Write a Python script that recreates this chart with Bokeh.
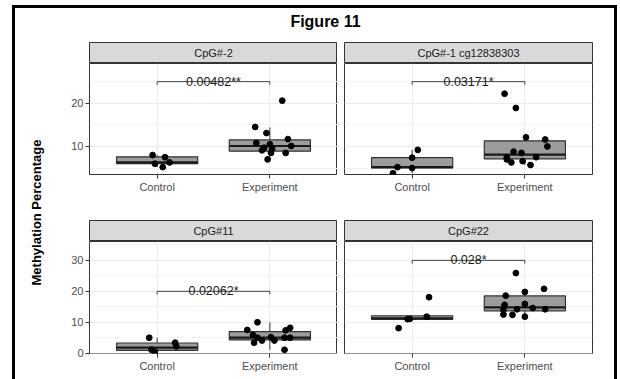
import math
from bokeh.plotting import figure
from bokeh.layouts import column, row
from bokeh.models import Range1d, FixedTicker, ColumnDataSource
from bokeh.core.properties import value
from bokeh.embed import file_html
from bokeh.resources import INLINE

FONT = "Liberation Sans"

# ---------------- data ----------------
title_text = "Figure 11"
y_title = "Methylation Percentage"
groups = ["Control", "Experiment"]
panels = ["CpG#-2", "CpG#-1 cg12838303", "CpG#11", "CpG#22"]
p_labels = ["0.00482**", "0.03171*", "0.02062*", "0.028*"]
bracket_y = [25, 25, 20, 30]

top_row_range = [3.5, 29.2]
bottom_row_range = [-0.1, 36.1]
top_row_ticks = [10, 20]
top_row_minor = [5, 15, 25]
bottom_row_ticks = [0, 10, 20, 30]
bottom_row_minor = [5, 15, 25, 35]

# points: values and horizontal jitter (in category units)
p1_control = [8.0, 7.5, 6.3, 6.0, 5.2]
p1_control_jit = [-0.04, 0.07, 0.11, -0.02, 0.05]
p1_experiment = [20.6, 14.5, 13.1, 11.7, 10.8, 10.5, 10.1, 9.7, 9.5, 9.1, 8.5, 8.5, 7.0]
p1_experiment_jit = [0.11, -0.13, -0.03, 0.16, -0.12, 0.0, 0.19, -0.05, 0.02, -0.07, 0.01, 0.14, -0.02]

p2_control = [9.2, 7.4, 5.2, 5.0, 3.8]
p2_control_jit = [0.05, 0.0, -0.13, 0.0, -0.17]
p2_experiment = [22.2, 18.9, 12.1, 11.6, 10.0, 8.8, 8.5, 7.5, 7.5, 7.0, 6.3, 6.6, 5.7]
p2_experiment_jit = [-0.18, -0.08, 0.01, 0.18, 0.2, -0.1, -0.03, 0.1, -0.16, -0.16, -0.12, -0.02, 0.05]

p3_control = [5.0, 3.4, 2.2, 1.1, 0.5]
p3_control_jit = [-0.07, 0.16, 0.17, -0.05, -0.02]
p3_experiment = [10.0, 7.5, 8.2, 7.4, 5.9, 5.2, 5.0, 4.1, 4.1, 5.0, 5.0, 3.4, 1.1]
p3_experiment_jit = [-0.11, -0.2, 0.18, 0.14, -0.15, 0.01, -0.11, -0.07, 0.04, 0.13, 0.18, -0.14, 0.13]

p4_control = [18.1, 11.8, 11.0, 11.1, 8.1]
p4_control_jit = [0.15, 0.13, -0.04, -0.02, -0.12]
p4_experiment = [25.9, 20.8, 19.8, 18.6, 15.6, 15.9, 14.6, 14.2, 14.2, 14.0, 12.5, 12.4, 11.8]
p4_experiment_jit = [-0.08, 0.17, 0.0, -0.17, -0.18, 0.0, 0.07, -0.07, 0.18, -0.19, -0.19, -0.11, 0.0]

# box statistics: [lower whisker, q1, median, q3, upper whisker]
p1_box_control = [5.2, 6.0, 6.3, 7.6, 8.0]
p1_box_experiment = [7.0, 8.9, 10.1, 11.5, 14.4]
p2_box_control = [3.8, 5.0, 5.2, 7.4, 9.2]
p2_box_experiment = [5.7, 7.1, 8.1, 11.3, 12.1]
p3_box_control = [0.5, 0.9, 1.8, 3.3, 5.0]
p3_box_experiment = [1.1, 4.3, 5.0, 7.0, 10.0]
p4_box_control = [10.9, 10.9, 11.3, 12.1, 12.1]
p4_box_experiment = [11.8, 13.7, 14.8, 18.5, 20.8]

panel_points = [
    [(p1_control, p1_control_jit), (p1_experiment, p1_experiment_jit)],
    [(p2_control, p2_control_jit), (p2_experiment, p2_experiment_jit)],
    [(p3_control, p3_control_jit), (p3_experiment, p3_experiment_jit)],
    [(p4_control, p4_control_jit), (p4_experiment, p4_experiment_jit)],
]
panel_boxes = [
    [p1_box_control, p1_box_experiment],
    [p2_box_control, p2_box_experiment],
    [p3_box_control, p3_box_experiment],
    [p4_box_control, p4_box_experiment],
]

# ---------------- styling / layout ----------------
FRAME_W = 248
BOX_HALF = 0.36
TIP_FRAC = 0.028
positions = [i + 1 for i in range(len(groups))]


def base_fig(**kw):
    f = figure(output_backend="svg", toolbar_location=None, **kw)
    f.border_fill_color = "white"
    return f


def make_strip(k, is_left):
    left = 39 if is_left else 7
    right = 0 if is_left else 22
    s = base_fig(width=left + FRAME_W + right, height=21,
                 x_range=Range1d(0, 1), y_range=Range1d(0, 1),
                 min_border_left=left, min_border_right=right,
                 min_border_top=0, min_border_bottom=0,
                 x_axis_location=None, y_axis_location=None)
    s.grid.grid_line_color = None
    s.background_fill_color = "#D9D9D9"
    s.outline_line_color = "#333333"
    s.outline_line_width = 1
    s.text(x=[0.5], y=[0.5], text=[panels[k]], text_align="center",
           text_baseline="middle", text_font=value(FONT),
           text_font_size="11px", text_color="#1A1A1A")
    return s


def make_panel(k, is_left, is_top):
    left = 39 if is_left else 7
    right = 0 if is_left else 22
    height = 157 if is_top else 138
    bottom = 46 if is_top else 26
    yr = top_row_range if is_top else bottom_row_range
    yt = top_row_ticks if is_top else bottom_row_ticks
    ym = top_row_minor if is_top else bottom_row_minor
    p = base_fig(width=left + FRAME_W + right, height=height,
                 x_range=Range1d(0.4, 2.6), y_range=Range1d(yr[0], yr[1]),
                 min_border_left=left, min_border_right=right,
                 min_border_top=0, min_border_bottom=bottom,
                 y_axis_location="left" if is_left else None)
    p.background_fill_color = "white"
    p.outline_line_color = "#333333"
    p.outline_line_width = 1

    # x axis
    p.xaxis.ticker = FixedTicker(ticks=positions)
    p.xaxis.major_label_overrides = {pos: g for pos, g in zip(positions, groups)}
    p.xaxis.axis_line_color = None
    p.xaxis.major_tick_line_color = "#333333"
    p.xaxis.major_tick_out = 4
    p.xaxis.major_tick_in = 0
    p.xaxis.minor_tick_line_color = None
    p.xaxis.major_label_text_font = FONT
    p.xaxis.major_label_text_font_size = "11px"
    p.xaxis.major_label_text_color = "#4D4D4D"
    p.xaxis.major_label_standoff = 2

    if is_left:
        p.yaxis.ticker = FixedTicker(ticks=yt, minor_ticks=ym)
        p.yaxis.axis_line_color = None
        p.yaxis.major_tick_line_color = "#333333"
        p.yaxis.major_tick_out = 4
        p.yaxis.major_tick_in = 0
        p.yaxis.minor_tick_line_color = None
        p.yaxis.major_label_text_font = FONT
        p.yaxis.major_label_text_font_size = "11px"
        p.yaxis.major_label_text_color = "#4D4D4D"
        p.yaxis.major_label_standoff = 2

    p.xgrid.ticker = FixedTicker(ticks=positions)
    p.xgrid.grid_line_color = "#EBEBEB"
    p.xgrid.grid_line_width = 1
    p.ygrid.ticker = FixedTicker(ticks=yt, minor_ticks=ym)
    p.ygrid.grid_line_color = "#EBEBEB"
    p.ygrid.grid_line_width = 1
    p.ygrid.minor_grid_line_color = "#F3F3F3"
    p.ygrid.minor_grid_line_width = 1

    # boxes
    boxes = panel_boxes[k]
    src = ColumnDataSource(dict(
        x=positions,
        left=[x - BOX_HALF for x in positions],
        right=[x + BOX_HALF for x in positions],
        lo=[b[0] for b in boxes], q1=[b[1] for b in boxes],
        med=[b[2] for b in boxes], q3=[b[3] for b in boxes],
        hi=[b[4] for b in boxes],
    ))
    p.segment(x0="x", y0="lo", x1="x", y1="q1", source=src, line_color="#333333", line_width=1)
    p.segment(x0="x", y0="q3", x1="x", y1="hi", source=src, line_color="#333333", line_width=1)
    p.quad(left="left", right="right", bottom="q1", top="q3", source=src,
           fill_color="#9C9C9C", line_color="#333333", line_width=1.2)
    p.segment(x0="left", y0="med", x1="right", y1="med", source=src,
              line_color="#1A1A1A", line_width=2.2)

    # points
    for pos, (vals, jit) in zip(positions, panel_points[k]):
        p.scatter(x=[pos + j for j in jit], y=vals, size=5.8,
                  fill_color="black", line_color="black")

    # significance bracket
    by = bracket_y[k]
    tip = TIP_FRAC * (yr[1] - yr[0])
    p.multi_line(xs=[[positions[0], positions[0], positions[1], positions[1]]],
                 ys=[[by - tip, by, by, by - tip]], line_color="#444444", line_width=1)
    p.text(x=[(positions[0] + positions[1]) / 2], y=[by], text=[p_labels[k]],
           text_align="center", text_baseline="alphabetic", y_offset=0,
           text_font=value(FONT), text_font_size="12.5px", text_color="#1A1A1A")
    return p


# title figure
INNER_W = 599
title_fig = base_fig(width=INNER_W, height=34, x_range=Range1d(0, INNER_W), y_range=Range1d(0, 34),
                     min_border_left=0, min_border_right=0, min_border_top=0, min_border_bottom=0,
                     x_axis_location=None, y_axis_location=None)
title_fig.grid.grid_line_color = None
title_fig.outline_line_color = None
title_fig.text(x=[310], y=[21], text=[title_text], text_align="center", text_baseline="middle",
               text_font=value(FONT), text_font_style="bold", text_font_size="16px", text_color="black")

# y-axis title figure
YL_W, YL_H = 35, 337
ylab_fig = base_fig(width=YL_W, height=YL_H, x_range=Range1d(0, YL_W), y_range=Range1d(0, YL_H),
                    min_border_left=0, min_border_right=0, min_border_top=0, min_border_bottom=0,
                    x_axis_location=None, y_axis_location=None)
ylab_fig.grid.grid_line_color = None
ylab_fig.outline_line_color = None
ylab_fig.text(x=[21], y=[YL_H - 170], text=[y_title], angle=math.pi / 2,
              text_align="center", text_baseline="middle",
              text_font=value(FONT), text_font_style="bold", text_font_size="13px", text_color="black")

cells = []
for k in range(4):
    is_left = k % 2 == 0
    is_top = k < 2
    cells.append(column(make_strip(k, is_left), make_panel(k, is_left, is_top)))

grid = column(row(cells[0], cells[1]), row(cells[2], cells[3]))
body = row(ylab_fig, grid)
outer = column(title_fig, body, margin=(5, 0, 0, 12),
               styles={"border-top": "3px solid black", "border-left": "3px solid black",
                       "border-right": "3px solid black"})

open("out.html", "w").write(file_html(outer, INLINE, title="Figure 11"))
